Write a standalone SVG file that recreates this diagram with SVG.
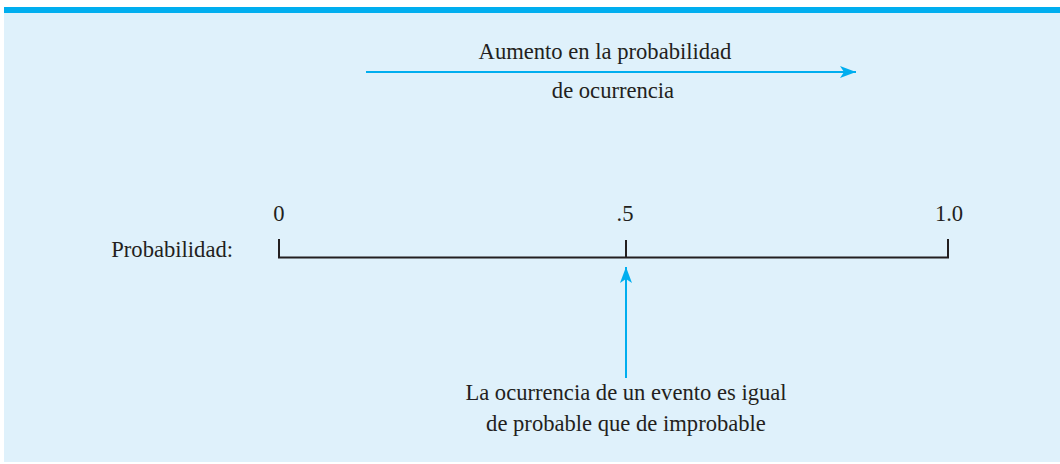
<svg xmlns="http://www.w3.org/2000/svg" width="1060" height="464" viewBox="0 0 1060 464">
<style>
text{font-family:"Liberation Serif","Times New Roman",serif;font-size:22.6px;fill:#231f20}
.ax{stroke:#231f20;stroke-width:2;fill:none}
.bl{stroke:#00aeef;stroke-width:2;fill:none}
</style>
<defs>
<marker id="ah" viewBox="0 0 16 12" refX="16" refY="6" markerWidth="16" markerHeight="12" markerUnits="userSpaceOnUse" orient="auto">
<path d="M0,0 L16,6 L0,12 L4,6 Z" fill="#00aeef"/>
</marker>
</defs>
<rect x="0" y="0" width="1060" height="464" fill="#ffffff"/>
<rect x="4" y="7" width="1056" height="455" fill="#dff1fb"/>
<rect x="4" y="7" width="1056" height="6" fill="#00aeef"/>
<g id="connectors">
<line class="bl" x1="366" y1="72" x2="856" y2="72" marker-end="url(#ah)"/>
<line class="bl" x1="626" y1="378" x2="626" y2="267" marker-end="url(#ah)"/>
</g>
<g id="axis">
<path class="ax" d="M279,239 V257.5 H948 V239"/>
<line class="ax" x1="626" y1="240" x2="626" y2="257"/>
</g>
<g id="top-label">
<text x="605" y="59" text-anchor="middle">Aumento en la probabilidad</text>
<text x="613" y="98" text-anchor="middle">de ocurrencia</text>
</g>
<g id="ticks">
<text x="279" y="221" text-anchor="middle">0</text>
<text x="625" y="221" text-anchor="middle">.5</text>
<text x="949" y="221" text-anchor="middle">1.0</text>
<text x="233" y="257" text-anchor="end">Probabilidad:</text>
</g>
<g id="bottom-label">
<text x="626" y="400" text-anchor="middle">La ocurrencia de un evento es igual</text>
<text x="626" y="431" text-anchor="middle">de probable que de improbable</text>
</g>
</svg>
